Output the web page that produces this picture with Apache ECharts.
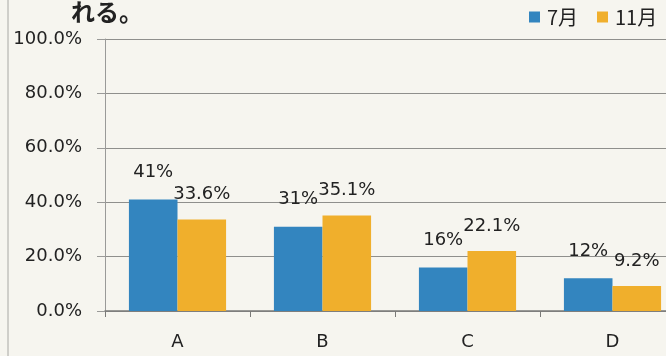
<!DOCTYPE html>
<html>
<head>
<meta charset="utf-8">
<script src="https://cdn.jsdelivr.net/npm/echarts@6/dist/echarts.min.js"></script>
<style>
  html, body { margin: 0; padding: 0; background: #f6f5ef; }
  #chart { width: 666px; height: 356px; }
</style>
</head>
<body>
<div id="chart"></div>
<script>
// Survey results by group, July vs November (percent)
const categories = ['A', 'B', 'C', 'D'];
const july = [41, 31, 16, 12];
const november = [33.6, 35.1, 22.1, 9.2];
const yTicks = [0, 20, 40, 60, 80, 100];
const seriesNames = ['7月', '11月'];

const CJK = '"Noto Sans CJK JP", "Noto Sans", sans-serif';
const NUM = '"DejaVu Sans", sans-serif';
const chart = echarts.init(document.getElementById('chart'));

// one legend block per series so each key sits at its own spot
const legendBase = {
  top: 2,
  itemWidth: 11, itemHeight: 11,
  icon: 'rect',
  textStyle: { fontSize: 20, color: '#222', fontFamily: CJK, padding: [0, 0, 0, 2] }
};

chart.setOption({
  backgroundColor: '#f6f5ef',
  animation: false,
  textStyle: { fontFamily: NUM },
  graphic: [
    { type: 'text', left: 71, top: 0,
      style: { text: 'れる。', font: 'bold 24px ' + CJK, fill: '#222' } },
    { type: 'line', shape: { x1: 8, y1: 0, x2: 8, y2: 356 },
      style: { stroke: '#a8a8a4', lineWidth: 1 } }
  ],
  legend: [
    Object.assign({}, legendBase, { left: 524, data: [seriesNames[0]] }),
    Object.assign({}, legendBase, { left: 592, data: [seriesNames[1]] })
  ],
  // the plot runs on past the right edge of the page
  grid: { left: 105, top: 39, bottom: 45, right: -19, outerBoundsMode: 'none' },
  xAxis: {
    type: 'category',
    data: categories,
    axisLine: { lineStyle: { color: '#7a7a78', width: 1.5 } },
    axisTick: { show: true, length: 6, lineStyle: { color: '#7a7a78' } },
    axisLabel: { fontSize: 18, color: '#222', margin: 22 }
  },
  yAxis: {
    type: 'value',
    min: yTicks[0], max: yTicks[yTicks.length - 1], interval: 20,
    axisLine: { show: true, lineStyle: { color: '#9a9a98' } },
    axisTick: { show: true, inside: false, length: 8, lineStyle: { color: '#9a9a98' } },
    splitLine: { lineStyle: { color: '#8f8f8c', width: 1 } },
    axisLabel: {
      fontSize: 18, color: '#222', margin: 23,
      formatter: v => v.toFixed(1) + '%'
    }
  },
  series: [
    {
      name: seriesNames[0], type: 'bar', data: july,
      barCategoryGap: '33%', barGap: '0%',
      itemStyle: { color: '#3385bf' },
      label: { show: true, position: 'top', distance: 18, fontSize: 18, color: '#222',
        formatter: p => p.value + '%' }
    },
    {
      name: seriesNames[1], type: 'bar', data: november,
      barCategoryGap: '33%', barGap: '0%',
      itemStyle: { color: '#f0af2c' },
      label: { show: true, position: 'top', distance: 16, fontSize: 18, color: '#222',
        formatter: p => p.value.toFixed(1) + '%' }
    }
  ]
});
</script>
</body>
</html>
